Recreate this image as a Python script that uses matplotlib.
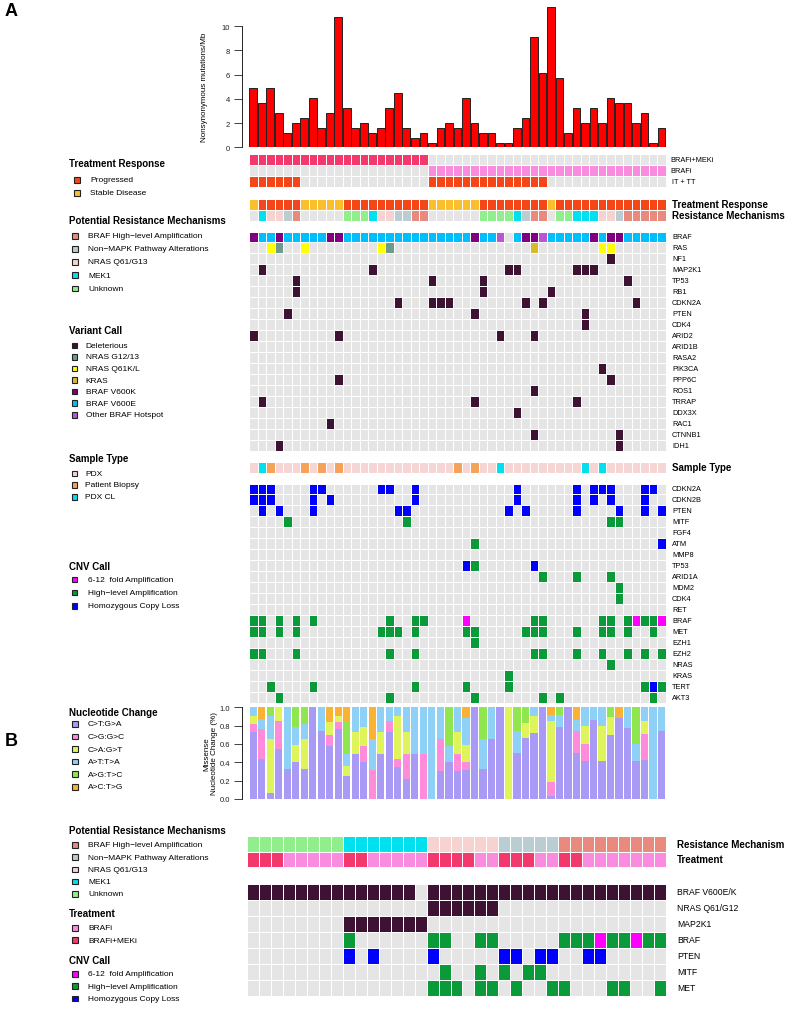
import numpy as np
import matplotlib.pyplot as plt
from matplotlib.colors import ListedColormap
from matplotlib.patches import Rectangle

plt.rcParams['font.family'] = ['Liberation Sans', 'DejaVu Sans']

# ---------------- panel A data ----------------
mut_per_mb = [4.9, 3.66, 4.9, 2.84, 1.18, 2.0, 2.42, 4.08, 1.6, 2.84,
              10.74, 3.25, 1.6, 2.0, 1.18, 1.6, 3.25, 4.49, 1.6, 0.77,
              1.18, 0.36, 1.6, 2.0, 1.6, 4.08, 2.0, 1.18, 1.18, 0.36,
              0.36, 1.6, 2.42, 9.09, 6.17, 11.57, 5.76, 1.18, 3.25, 2.0,
              3.25, 2.0, 4.08, 3.66, 3.66, 2.0, 2.84, 0.36, 1.6]

# C = BRAFi+MEKi, B = BRAFi ; Y = IT + TT
regimen = "C" * 21 + "B" * 28
it_tt = "Y" * 6 + "-" * 15 + "Y" * 14 + "-" * 14
# P = progressed, S = stable disease
response = "SPPPPPSSSSS" + "P" * 10 + "S" * 6 + "P" * 8 + "S" + "P" * 13
# A = BRAF amp, X = non-MAPK, N = NRAS, M = MEK1, U = unknown
resistance = "-MNNXA-----UUUMNNXXAA------UUUUMXAA-UUMMMNNXAAAAA"

var_genes = ['BRAF', 'RAS', 'NF1', 'MAP2K1', 'TP53', 'RB1', 'CDKN2A', 'PTEN', 'CDK4',
             'ARID2', 'ARID1B', 'RASA2', 'PIK3CA', 'PPP6C', 'ROS1', 'TRRAP', 'DDX3X',
             'RAC1', 'CTNNB1', 'IDH1']
# K = V600K, E = V600E, O = other hotspot
braf_call = "KEEKEEEEEKK" + "E" * 15 + "KEEO-EKKOEEEEEKEKKEEEEE"
# Q = NRAS Q61K/L, G = NRAS G12/13, R = KRAS
ras_call = {3: 'Q', 4: 'G', 7: 'Q', 16: 'Q', 17: 'G', 34: 'R', 42: 'Q', 43: 'Q'}
deleterious = {
    'NF1': [43], 'MAP2K1': [2, 15, 31, 32, 39, 40, 41], 'TP53': [6, 22, 28, 45],
    'RB1': [6, 28, 36], 'CDKN2A': [18, 22, 23, 24, 33, 35, 46], 'PTEN': [5, 27, 40],
    'CDK4': [40], 'ARID2': [1, 11, 30, 34], 'ARID1B': [], 'RASA2': [], 'PIK3CA': [42],
    'PPP6C': [11, 43], 'ROS1': [34], 'TRRAP': [2, 27, 39], 'DDX3X': [32], 'RAC1': [10],
    'CTNNB1': [34, 44], 'IDH1': [4, 44]}

# P = PDX, B = patient biopsy, C = PDX CL
sample_type = "PCBPPPBPBPB" + "P" * 13 + "BPBPPC" + "P" * 9 + "CPC" + "P" * 7

cnv_genes = ['CDKN2A', 'CDKN2B', 'PTEN', 'MITF', 'FGF4', 'ATM', 'MMP8', 'TP53', 'ARID1A',
             'MDM2', 'CDK4', 'RET', 'BRAF', 'MET', 'EZH1', 'EZH2', 'NRAS', 'KRAS', 'TERT', 'AKT3']
cnv_loss = {'CDKN2A': [1, 2, 3, 8, 9, 16, 17, 20, 32, 39, 41, 42, 43, 47, 48],
            'CDKN2B': [1, 2, 3, 8, 10, 20, 32, 39, 41, 43, 47],
            'PTEN': [2, 4, 8, 18, 19, 31, 33, 39, 44, 47, 49],
            'ATM': [49], 'TP53': [26, 34], 'TERT': [48]}
cnv_amp = {'MITF': [5, 19, 43, 44], 'ATM': [27], 'TP53': [27], 'ARID1A': [35, 39, 43],
           'MDM2': [44], 'CDK4': [44],
           'BRAF': [1, 2, 4, 6, 8, 17, 20, 21, 34, 35, 42, 43, 45, 47, 48],
           'MET': [1, 2, 4, 6, 16, 17, 18, 20, 26, 27, 33, 34, 35, 39, 42, 43, 45, 48],
           'EZH1': [27], 'EZH2': [1, 2, 6, 17, 20, 34, 35, 39, 42, 45, 47, 49],
           'NRAS': [43], 'KRAS': [31], 'TERT': [3, 8, 20, 26, 31, 47, 49],
           'AKT3': [4, 17, 27, 35, 37, 48]}
cnv_fold = {'BRAF': [26, 46, 49]}

nuc_labels = ['C>T:G>A', 'C>G:G>C', 'C>A:G>T', 'A>T:T>A', 'A>G:T>C', 'A>C:T>G']
nuc_ct = [.735, .436, .07, .55, .33, .40, .33, 1, .745, .58, .76, .25, .49, .40, 0, .49, .735, .345, .22, .49,
          0, 0, .31, .40, .31, .32, 1, .33, .655, 1, 0, .50, .665, .72, 1, .036, .78, 1, .50, .41,
          .865, .41, .70, .885, .775, .41, .43, 0, .745]
nuc_cg = [.085, .328, 0, .305, 0, 0, 0, 0, 0, .12, .075, 0, 0, .18, .32, 0, .12, .09, .27, 0,
          .49, 0, .345, 0, .18, .08, 0, 0, 0, 0, 0, 0, 0, 0, 0, .144, 0, 0, .245, .19,
          0, 0, 0, 0, 0, 0, .28, 0, 0]
nuc_ca = [.08, 0, .585, .145, 0, .19, .325, 0, 0, .145, .075, .11, .245, .21, 0, .24, 0, .465, .245, 0,
          0, 0, 0, 0, .245, .19, 0, 0, 0, 0, 1, 0, .165, .19, 0, .675, 0, 0, 0, .20,
          0, .39, .19, 0, 0, 0, .145, 0, 0]
nuc_at = [.10, .109, .245, 0, .67, .19, .165, 0, .255, 0, 0, .13, .265, .21, .335, .27, .145, .10, .265, .51,
          .51, 1, .345, .18, .265, .29, 0, .325, .345, 0, 0, .245, 0, .09, 0, .065, .14, 0, .12, .20,
          .135, .20, 0, 0, .225, .19, .145, 1, .255]
nuc_ag = [0, 0, .10, 0, 0, .22, .18, 0, 0, 0, 0, .365, 0, 0, 0, 0, 0, 0, 0, 0,
          0, 0, 0, .42, 0, 0, 0, .345, 0, 0, 0, .255, .17, 0, 0, 0, .08, 0, 0, 0,
          0, 0, .11, 0, 0, .40, 0, 0, 0]
nuc_ac = [0, .127, 0, 0, 0, 0, 0, 0, 0, .155, .09, .145, 0, 0, .345, 0, 0, 0, 0, 0,
          0, 0, 0, 0, 0, .12, 0, 0, 0, 0, 0, 0, 0, 0, 0, .08, 0, 0, .135, 0,
          0, 0, 0, .115, 0, 0, 0, 0, 0]

# ---------------- panel B data ----------------
res_b = "U" * 8 + "M" * 7 + "N" * 6 + "X" * 5 + "A" * 9
treat_b = "CCCBBBBBCCBBBBBCCCCBBCCCBBCCBBBBBBB"
b_genes = ['BRAF V600E/K', 'NRAS Q61/G12', 'MAP2K1', 'BRAF', 'PTEN', 'MITF', 'MET']
b_calls = ["D" * 14 + "-" + "D" * 20,
           "-" * 15 + "D" * 6 + "-" * 14,
           "-" * 8 + "D" * 7 + "-" * 20,
           "--------G------GG--GG-----GGGMGGMGG",
           "--------L-L----L-----LL-LL--LL-----",
           "----------------G--G-G-GG----------",
           "---------------GGG-GG-G--GG---GG--G"]

# ---------------- colours ----------------
GRAY = '#E5E5E5'
C_COMBO, C_BRAFI, C_PROG, C_STABLE = '#F2386C', '#FA8CE0', '#F5461A', '#FBBF2D'
res_col = {'A': '#E88A7E', 'X': '#B9CDD3', 'N': '#F6D2D0', 'M': '#00E0EE', 'U': '#91EE8C', '-': GRAY}
var_col = {'D': '#3E1232', 'G': '#6E9C8C', 'Q': '#FFFF00', 'R': '#D6BC2C',
           'K': '#800080', 'E': '#00BFFF', 'O': '#BB55D6', '-': GRAY}
type_col = {'P': '#F6D6D4', 'B': '#F5A25A', 'C': '#00E0EE'}
cnv_col = {'M': '#FF00FF', 'G': '#0B9A3A', 'L': '#0000FF', 'D': '#3E1232', '-': GRAY}
nuc_col = ['#A99BF5', '#FF8BDB', '#DFF45A', '#8FD0F7', '#8FE64E', '#F9B233']

W, H = 785, 1020
fig = plt.figure(figsize=(W / 100, H / 100), dpi=100)
n = len(mut_per_mb)
samples = list(range(1, n + 1))


def add_ax(x0, y0, x1, y1):
    return fig.add_axes([x0 / W, 1 - y1 / H, (x1 - x0) / W, (y1 - y0) / H])


def cells(ax, rows, lw=0.45):
    uniq = sorted({c for r in rows for c in r})
    idx = np.array([[uniq.index(c) for c in r] for r in rows])
    ax.pcolormesh(idx, cmap=ListedColormap(uniq), vmin=-0.5, vmax=len(uniq) - 0.5,
                  edgecolors='white', linewidth=lw)
    ax.set_xlim(0, idx.shape[1])
    ax.set_ylim(idx.shape[0], 0)
    ax.axis('off')


def row_labels(ax, labels, dx, size=5.3, bold=False):
    for i, lab in enumerate(labels):
        ax.text(ax.get_xlim()[1] + dx, i + 0.5, lab, fontsize=size, va='center', ha='left',
                fontweight='bold' if bold else 'normal', clip_on=False)


def style_axis(ax, top):
    for s in ['top', 'right', 'bottom']:
        ax.spines[s].set_visible(False)
    ax.spines['left'].set_bounds(0, top)
    ax.spines['left'].set_position(('outward', 5.3))
    ax.spines['left'].set_linewidth(0.6)
    ax.set_xticks([])
    ax.tick_params(axis='y', labelsize=5.5, length=6, width=0.6, pad=2.5, colors='#222222')


x = np.arange(n) + 0.5

# mutation burden
axb = add_ax(249, 7.9, 665.7, 148.3)
axb.bar(x, mut_per_mb, width=0.9, color='#FF0000', edgecolor='#222222', linewidth=0.7)
axb.set_xlim(0, n)
axb.set_ylim(0, 11.6)
axb.set_yticks(range(0, 11, 2))
style_axis(axb, 10)

# treatment
axt = add_ax(249, 155.2, 665.7, 188.2)
cells(axt, [[C_COMBO if r == 'C' else GRAY for r in regimen],
            [C_BRAFI if r == 'B' else GRAY for r in regimen],
            [C_PROG if t == 'Y' else GRAY for t in it_tt]])
row_labels(axt, ['BRAFi+MEKi', 'BRAFi', ' IT + TT'], 0.5)

axr = add_ax(249, 199.5, 665.7, 221.5)
cells(axr, [[C_PROG if r == 'P' else C_STABLE for r in response],
            [res_col[c] for c in resistance]])
row_labels(axr, ['Treatment Response', 'Resistance Mechanisms'], 0.75, size=7, bold=True)

# variant calls
var_rows = [[var_col[c] for c in braf_call],
            [var_col[ras_call.get(s, '-')] for s in samples]]
for g in var_genes[2:]:
    var_rows.append([var_col['D'] if s in deleterious[g] else GRAY for s in samples])
axv = add_ax(249, 232.5, 665.7, 451.5)
cells(axv, var_rows)
row_labels(axv, var_genes, 0.75)

# sample type
axs = add_ax(249, 462.5, 665.7, 473.5)
cells(axs, [[type_col[c] for c in sample_type]])
row_labels(axs, ['Sample Type'], 0.75, size=7, bold=True)

# CNV calls
cnv_rows = []
for g in cnv_genes:
    row = []
    for s in samples:
        if s in cnv_fold.get(g, []):
            row.append(cnv_col['M'])
        elif s in cnv_amp.get(g, []):
            row.append(cnv_col['G'])
        elif s in cnv_loss.get(g, []):
            row.append(cnv_col['L'])
        else:
            row.append(GRAY)
    cnv_rows.append(row)
axc = add_ax(249, 484.5, 665.7, 703.5)
cells(axc, cnv_rows)
row_labels(axc, cnv_genes, 0.75)

# nucleotide change
axn = add_ax(249, 708.3, 665.7, 800)
bottom = np.zeros(n)
for vals, col in zip([nuc_ct, nuc_cg, nuc_ca, nuc_at, nuc_ag, nuc_ac], nuc_col):
    axn.bar(x, vals, width=0.86, bottom=bottom, color=col, linewidth=0)
    bottom += np.array(vals)
axn.set_xlim(0, n)
axn.set_ylim(0, 1)
axn.set_yticks(np.arange(0, 1.01, 0.2))
axn.set_yticklabels(['%.1f' % v for v in np.arange(0, 1.01, 0.2)])
style_axis(axn, 1)

# panel B
axba = add_ax(247.3, 836.8, 665.7, 868.2)
cells(axba, [[res_col[c] for c in res_b],
             [C_COMBO if c == 'C' else C_BRAFI for c in treat_b]], lw=0.5)
row_labels(axba, ['Resistance Mechanism', 'Treatment'], 0.95, size=7, bold=True)

axbg = add_ax(247.3, 884.5, 665.7, 996.5)
cells(axbg, [[cnv_col[c] for c in r] for r in b_calls], lw=0.6)
row_labels(axbg, b_genes, 0.95, size=6.2)

# ---------------- legends and labels ----------------
ov = fig.add_axes([0, 0, 1, 1])
ov.set_xlim(0, W)
ov.set_ylim(H, 0)
ov.axis('off')

ov.text(5, 12, 'A', fontsize=13, fontweight='bold', va='center')
ov.text(5, 742, 'B', fontsize=13, fontweight='bold', va='center')
ov.text(205, 87, 'Nonsynonymous mutations/Mb', rotation=90, fontsize=5.8, ha='center', va='center')
ov.text(211, 754, 'Missense\nNucleotide Change (%)', rotation=90, fontsize=5.8,
        ha='center', va='center', multialignment='center', linespacing=1.1)


def legend(title, ty, items, y0, dy, sq_x, tx_x):
    ov.text(69, ty, title, fontsize=7, fontweight='bold', va='center')
    for k, (lab, col) in enumerate(items):
        y = y0 + k * dy
        ov.add_patch(Rectangle((sq_x, y - 2.8), 5.6, 5.6, facecolor=col,
                               edgecolor='#222222', linewidth=0.8))
        ov.text(tx_x, y, lab, fontsize=6, va='center')


res_items = [('BRAF High\u2212level Amplification', res_col['A']),
             ('Non\u2212MAPK Pathway Alterations', res_col['X']),
             ('NRAS Q61/G13', res_col['N']), ('MEK1', res_col['M']), ('Unknown', res_col['U'])]
cnv_items = [('6-12  fold Amplification', cnv_col['M']),
             ('High\u2212level Amplification', cnv_col['G']),
             ('Homozygous Copy Loss', cnv_col['L'])]

legend('Treatment Response', 164, [('Progressed', C_PROG), ('Stable Disease', C_STABLE)],
       181, 12.7, 74, 90)
legend('Potential Resistance Mechanisms', 220.7, res_items, 236.7, 13.15, 72.3, 88)
legend('Variant Call', 331.3,
       [('Deleterious', var_col['D']), ('NRAS G12/13', var_col['G']), ('NRAS Q61K/L', var_col['Q']),
        ('KRAS', var_col['R']), ('BRAF V600K', var_col['K']), ('BRAF V600E', var_col['E']),
        ('Other BRAF Hotspot', var_col['O'])], 346.3, 11.57, 71.7, 85.7)
legend('Sample Type', 459, [('PDX', type_col['P']), ('Patient Biopsy', type_col['B']),
                            ('PDX CL', type_col['C'])], 474.3, 11.7, 71.7, 85.3)
legend('CNV Call', 567.3, cnv_items, 580.3, 13.2, 71.7, 87.7)
legend('Nucleotide Change', 713.3, list(zip(nuc_labels, nuc_col)), 725, 12.55, 72, 87.7)

legend('Potential Resistance Mechanisms', 831, res_items, 846, 12.2, 72.3, 88)
legend('Treatment', 914, [('BRAFi', C_BRAFI), ('BRAFi+MEKi', C_COMBO)], 929, 12.2, 72.3, 88)
legend('CNV Call', 961, cnv_items, 975, 12.2, 72.3, 88)

fig.savefig('out.png', dpi=100)
